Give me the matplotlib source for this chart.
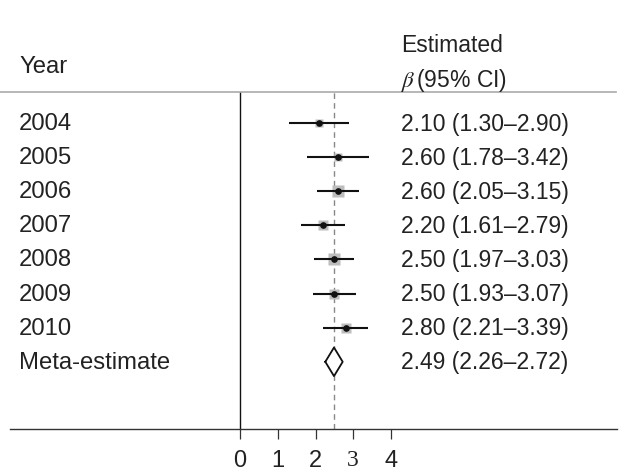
import numpy as np
import matplotlib.pyplot as plt
from matplotlib.lines import Line2D
from matplotlib.transforms import blended_transform_factory

labels = ['2004', '2005', '2006', '2007', '2008', '2009', '2010', 'Meta-estimate']
est = [2.10, 2.60, 2.60, 2.20, 2.50, 2.50, 2.80]
lo = [1.30, 1.78, 2.05, 1.61, 1.97, 1.93, 2.21]
hi = [2.90, 3.42, 3.15, 2.79, 3.03, 3.07, 3.39]
meta = [2.49, 2.26, 2.72]
xticks = [0, 1, 2, 3, 4]

plt.rcParams['font.family'] = ['Liberation Sans', 'DejaVu Sans']
plt.rcParams['mathtext.fontset'] = 'stix'
fs = 16.5
tc = '#222222'

fig = plt.figure(figsize=(6.24, 4.77), dpi=100)
W, H = 624, 477
ax = fig.add_axes([10 / W, 1 - 430 / H, 607 / W, (430 - 93) / H])
ppu = 37.75
ax.set_xlim(-(240 - 10) / ppu, -(240 - 10) / ppu + 607 / ppu)
ax.set_ylim(7 + 67 / 34, -31 / 34)

rows = np.arange(len(est))
# study rows
for y, e, l, h in zip(rows, est, lo, hi):
    side = 12.5 / (h - l) * 0.72
    ax.plot([l, h], [y, y], color='#111111', lw=1.5, solid_capstyle='butt', zorder=3)
    ax.plot(e, y, marker='s', ms=side, color='#bdbdbd', mec='none', zorder=2)
    ax.plot(e, y, marker='o', ms=3.8, color='#111111', zorder=4)

# meta diamond
ym = len(est)
dx = [meta[1], meta[0], meta[2], meta[0], meta[1]]
dy = [ym, ym - 0.42, ym, ym + 0.42, ym]
ax.plot(dx, dy, color='#111111', lw=1.3, zorder=4)
ax.fill(dx, dy, color='white', zorder=3)

ax.axvline(meta[0], color='#888888', lw=1, ls=(0, (4, 3)), zorder=1)
ax.axvline(0, color='#111111', lw=1, zorder=1)

for s in ['top', 'left', 'right']:
    ax.spines[s].set_visible(False)
ax.spines['bottom'].set_color('#333333')
ax.spines['bottom'].set_linewidth(1)
ax.set_yticks([])
ax.set_xticks(xticks)
ax.set_xticklabels([str(t) for t in xticks], fontsize=17, color=tc)
ax.tick_params(axis='x', direction='out', length=7.5, width=0.9, pad=7, color='#333333')
ax.get_xticklabels()[3].set_family('Liberation Serif')

# top separator
fig.add_artist(Line2D([0, 616 / W], [1 - 93 / H, 1 - 93 / H], color='#aaaaaa', lw=1.2))

# row texts
tr = blended_transform_factory(fig.transFigure, ax.transData)
for i, lab in enumerate(labels):
    ax.text(19 / W, i, lab, transform=tr, fontsize=17.2, color=tc, va='center', ha='left')
vals = est + [meta[0]]
los = lo + [meta[1]]
his = hi + [meta[2]]
for i, (v, l, h) in enumerate(zip(vals, los, his)):
    ax.text(401 / W, i, f'{v:.2f} ({l:.2f}\u2013{h:.2f})', transform=tr,
            fontsize=fs, color=tc, va='center', ha='left')

# headers
fig.text(19 / W, 1 - 67 / H, 'Year', fontsize=17.2, color=tc, va='center', ha='left')
fig.text(401 / W, 1 - 45 / H, 'Estimated', fontsize=fs, color=tc, va='center', ha='left')
fig.text(401 / W, 1 - 81 / H, r'$\beta\,$(95% CI)', fontsize=fs, color=tc, va='center', ha='left')

fig.savefig('out.png', dpi=100)
